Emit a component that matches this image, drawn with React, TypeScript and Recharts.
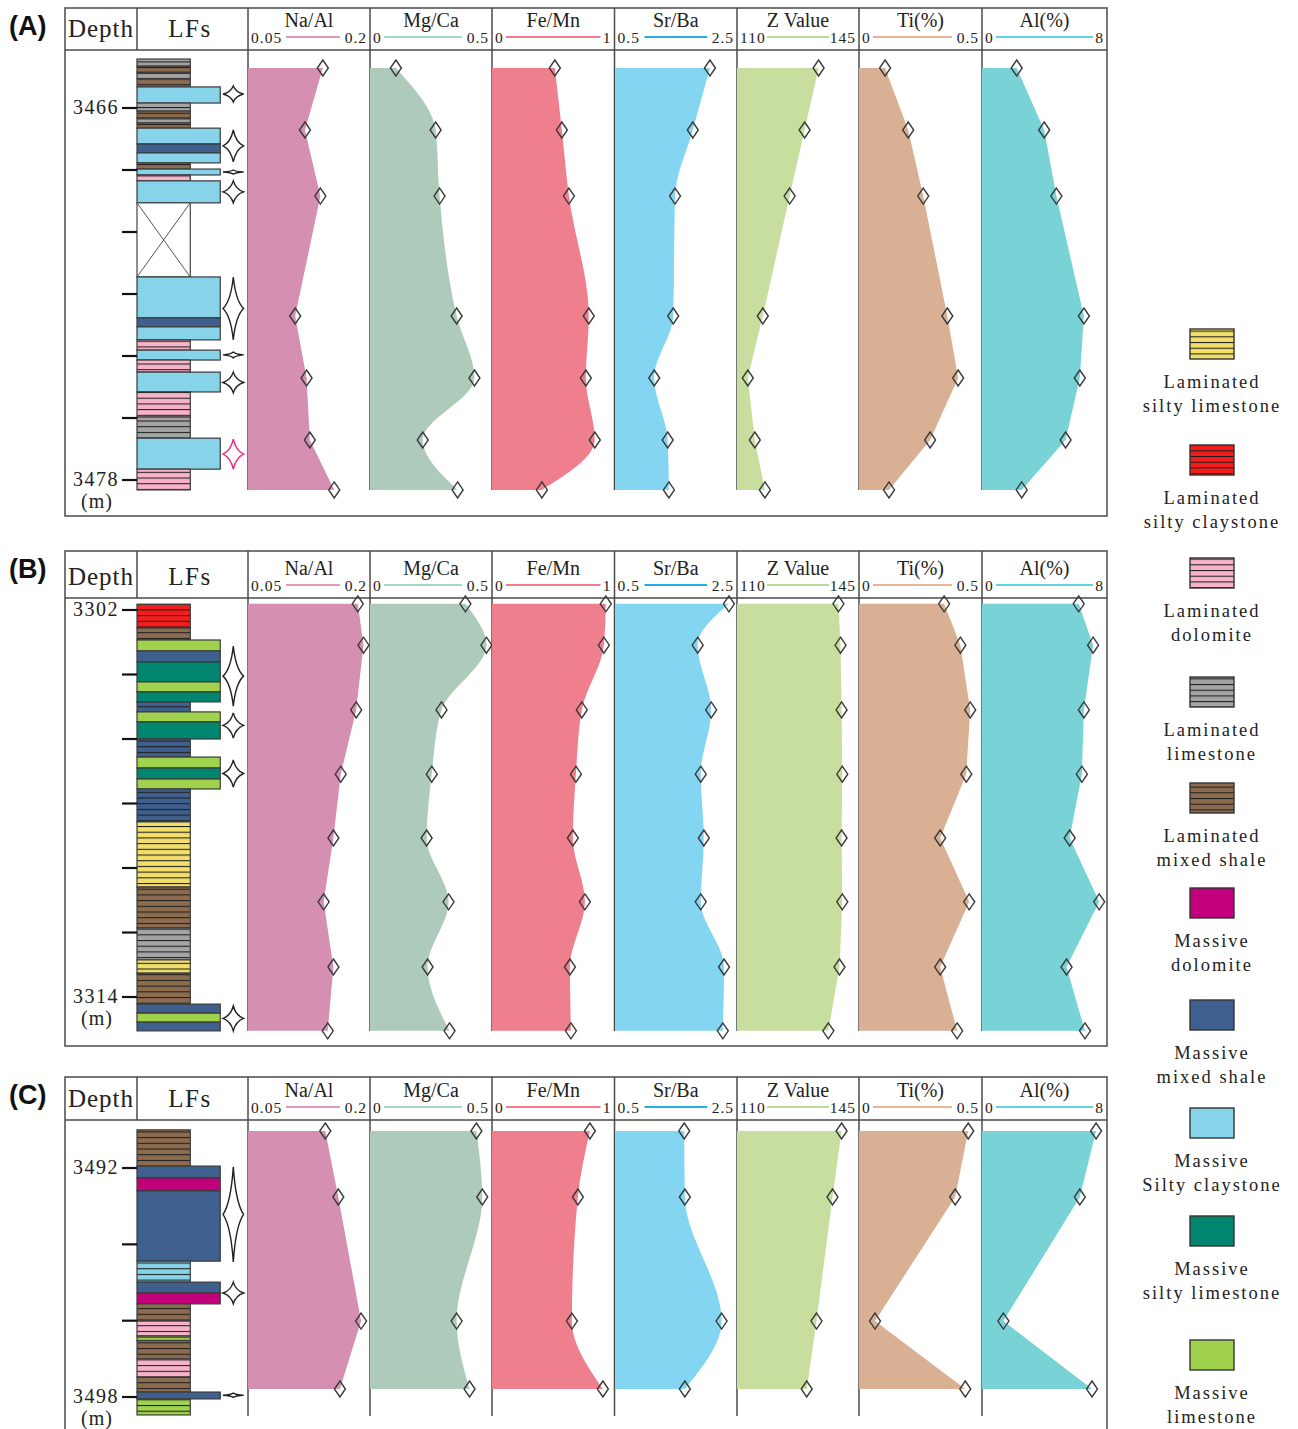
import React from 'react'
import { ComposedChart, Area, XAxis, YAxis, ReferenceArea } from 'recharts'

const SERIF = '"Liberation Serif", "DejaVu Serif", serif'
const SANS = '"Liberation Sans", Arial, sans-serif'

// ---------- panel A ----------
const DEPTH_A = [3464.71, 3466.71, 3468.84, 3472.71, 3474.71, 3476.71, 3478.32]
const NA_AL_A = [0.142, 0.12, 0.139, 0.108, 0.122, 0.126, 0.156]
const MG_CA_A = [0.106, 0.269, 0.285, 0.355, 0.428, 0.216, 0.359]
const FE_MN_A = [0.513, 0.57, 0.628, 0.79, 0.766, 0.839, 0.407]
const SR_BA_A = [2.05, 1.77, 1.48, 1.45, 1.14, 1.36, 1.38]
const Z_A = [133.4, 129.4, 125.1, 117.4, 113.1, 115.1, 118.0]
const TI_A = [0.106, 0.2, 0.261, 0.359, 0.403, 0.289, 0.122]
const AL_A = [2.22, 3.98, 4.76, 6.52, 6.26, 5.35, 2.54]
const TICKS_A = [3466, 3468, 3470, 3472, 3474, 3476, 3478]

// ---------- panel B ----------
const DEPTH_B = [3301.81, 3303.09, 3305.1, 3307.09, 3309.07, 3311.05, 3313.07, 3315.05]
const NA_AL_B = [0.185, 0.192, 0.183, 0.164, 0.155, 0.143, 0.155, 0.148]
const MG_CA_B = [0.391, 0.477, 0.293, 0.253, 0.232, 0.322, 0.236, 0.326]
const FE_MN_B = [0.929, 0.913, 0.733, 0.685, 0.66, 0.758, 0.636, 0.644]
const SR_BA_B = [2.36, 1.85, 2.07, 1.9, 1.95, 1.9, 2.28, 2.26]
const Z_B = [139.1, 139.7, 140.0, 140.2, 140.0, 140.2, 139.4, 136.2]
const TI_B = [0.346, 0.412, 0.452, 0.436, 0.33, 0.448, 0.33, 0.399]
const AL_B = [6.19, 7.11, 6.52, 6.39, 5.61, 7.5, 5.41, 6.59]
const TICKS_B = [3302, 3304, 3306, 3308, 3310, 3312, 3314]

// ---------- panel C ----------
const DEPTH_C = [3491.03, 3492.76, 3496.01, 3497.79]
const NA_AL_C = [0.145, 0.161, 0.189, 0.163]
const MG_CA_C = [0.436, 0.46, 0.355, 0.408]
const FE_MN_C = [0.799, 0.701, 0.652, 0.905]
const SR_BA_C = [1.63, 1.64, 2.24, 1.64]
const Z_C = [140.0, 137.4, 132.8, 130.0]
const TI_C = [0.444, 0.391, 0.065, 0.432]
const AL_C = [7.3, 6.26, 1.37, 7.04]
const TICKS_C = [3492, 3494, 3496, 3498]

// lithology layers: [top, bottom, rock]
type Layer = [number, number, string]
const LAYERS_A: Layer[] = [
  [3464.42, 3464.65, 'll'], [3464.65, 3464.85, 'lms'], [3464.85, 3465.05, 'll'], [3465.05, 3465.32, 'lms'],
  [3465.32, 3465.84, 'msc'],
  [3465.84, 3466.1, 'll'], [3466.1, 3466.32, 'lms'], [3466.32, 3466.48, 'll'], [3466.48, 3466.65, 'lms'],
  [3466.65, 3467.16, 'msc'], [3467.16, 3467.45, 'mms'], [3467.45, 3467.77, 'msc'],
  [3467.77, 3467.97, 'lms'],
  [3467.97, 3468.16, 'msc'],
  [3468.16, 3468.35, 'ld'],
  [3468.35, 3469.06, 'msc'],
  [3469.06, 3471.45, 'x'],
  [3471.45, 3472.77, 'msc'], [3472.77, 3473.06, 'mms'], [3473.06, 3473.48, 'msc'],
  [3473.48, 3473.81, 'ld'],
  [3473.81, 3474.13, 'msc'],
  [3474.13, 3474.52, 'ld'],
  [3474.52, 3475.16, 'msc'],
  [3475.16, 3475.97, 'ld'],
  [3475.97, 3476.65, 'll'],
  [3476.65, 3477.65, 'msc'],
  [3477.65, 3478.32, 'ld'],
]
const LAYERS_B: Layer[] = [
  [3301.82, 3302.56, 'lsc'], [3302.56, 3302.93, 'lms'],
  [3302.93, 3303.27, 'ml'], [3303.27, 3303.61, 'mms'], [3303.61, 3304.23, 'msl'], [3304.23, 3304.54, 'ml'], [3304.54, 3304.85, 'msl'],
  [3304.85, 3305.16, 'lmb'],
  [3305.16, 3305.47, 'ml'], [3305.47, 3306.0, 'msl'],
  [3306.0, 3306.56, 'lmb'],
  [3306.56, 3306.9, 'ml'], [3306.9, 3307.24, 'msl'], [3307.24, 3307.55, 'ml'],
  [3307.55, 3308.57, 'lmb'],
  [3308.57, 3310.59, 'lsl'],
  [3310.59, 3311.86, 'lms'],
  [3311.86, 3312.85, 'll'],
  [3312.85, 3313.26, 'lsl'],
  [3313.26, 3314.22, 'lms'],
  [3314.22, 3314.5, 'mms'], [3314.5, 3314.78, 'ml'], [3314.78, 3315.05, 'mms'],
]
const LAYERS_C: Layer[] = [
  [3491.0, 3491.95, 'lms'],
  [3491.95, 3492.26, 'mms'], [3492.26, 3492.6, 'md'], [3492.6, 3494.44, 'mms'],
  [3494.44, 3494.99, 'lcb'],
  [3494.99, 3495.27, 'mms'], [3495.27, 3495.56, 'md'],
  [3495.56, 3496.01, 'lms'],
  [3496.01, 3496.4, 'ld'],
  [3496.4, 3496.52, 'lgr'],
  [3496.52, 3497.0, 'lms'],
  [3497.0, 3497.48, 'ld'],
  [3497.48, 3497.87, 'lms'],
  [3497.87, 3498.05, 'mms'],
  [3498.05, 3498.47, 'lgr'],
]

// sparkle symbols beside the column: [top, bottom, highlighted]
type Star = [number, number, number]
const STARS_A: Star[] = [
  [3465.29, 3465.81, 0], [3466.71, 3467.74, 0], [3468.0, 3468.13, 0], [3468.35, 3469.06, 0],
  [3471.45, 3473.48, 0], [3473.87, 3474.06, 0], [3474.52, 3475.19, 0], [3476.68, 3477.65, 1],
]
const STARS_B: Star[] = [
  [3303.12, 3304.98, 0], [3305.19, 3305.97, 0], [3306.65, 3307.49, 0], [3314.28, 3315.05, 0],
]
const STARS_C: Star[] = [
  [3491.97, 3494.46, 0], [3494.99, 3495.56, 0], [3497.9, 3498.01, 0],
]

const ROCKS: Record<string, { color: string; lam: boolean }> = {
  lsl: { color: '#f2df6a', lam: true },
  lsc: { color: '#f41c1c', lam: true },
  ld: { color: '#f8b3cb', lam: true },
  ll: { color: '#a4a4a4', lam: true },
  lms: { color: '#8c6c4f', lam: true },
  md: { color: '#c3007b', lam: false },
  mms: { color: '#3f5f8e', lam: false },
  msc: { color: '#86d3ea', lam: false },
  msl: { color: '#00866f', lam: false },
  ml: { color: '#a0d24e', lam: false },
  lmb: { color: '#3f5f8e', lam: true },
  lcb: { color: '#86d3ea', lam: true },
  lgr: { color: '#a0d24e', lam: true },
  x: { color: '#ffffff', lam: true },
}

const LEGEND_ROCKS = ['lsl', 'lsc', 'ld', 'll', 'lms', 'md', 'mms', 'msc', 'msl', 'ml']
const LEGEND_NAMES = [
  ['Laminated', 'silty limestone'],
  ['Laminated', 'silty claystone'],
  ['Laminated', 'dolomite'],
  ['Laminated', 'limestone'],
  ['Laminated', 'mixed shale'],
  ['Massive', 'dolomite'],
  ['Massive', 'mixed shale'],
  ['Massive', 'Silty claystone'],
  ['Massive', 'silty limestone'],
  ['Massive', 'limestone'],
]
const LEGEND_Y = [329, 445, 558, 677, 783, 888, 1000, 1108, 1216, 1340]

const COLUMNS = [
  { key: 'na', title: 'Na/Al', min: 0.05, max: 0.2, lo: '0.05', hi: '0.2', fill: '#d48fb1', line: '#e596b9', curve: 'linear' },
  { key: 'mg', title: 'Mg/Ca', min: 0, max: 0.5, lo: '0', hi: '0.5', fill: '#aecabb', line: '#a6d7c0', curve: 'monotone' },
  { key: 'fe', title: 'Fe/Mn', min: 0, max: 1, lo: '0', hi: '1', fill: '#ef7f8d', line: '#f27d8b', curve: 'monotone' },
  { key: 'sr', title: 'Sr/Ba', min: 0.5, max: 2.5, lo: '0.5', hi: '2.5', fill: '#84d5f1', line: '#29ace6', curve: 'monotone' },
  { key: 'z', title: 'Z Value', min: 110, max: 145, lo: '110', hi: '145', fill: '#c8de9f', line: '#b7dc98', curve: 'linear' },
  { key: 'ti', title: 'Ti(%)', min: 0, max: 0.5, lo: '0', hi: '0.5', fill: '#dab094', line: '#e8b49a', curve: 'linear' },
  { key: 'al', title: 'Al(%)', min: 0, max: 8, lo: '0', hi: '8', fill: '#79d2d6', line: '#62d2e0', curve: 'linear' },
]
const COL_X = [248, 370, 492, 614.5, 737, 859, 982, 1107]

const buildRows = (depth: number[], s: number[][]) =>
  depth.map((d, i) => ({ depth: d, na: s[0][i], mg: s[1][i], fe: s[2][i], sr: s[3][i], z: s[4][i], ti: s[5][i], al: s[6][i] }))

const PANELS = [
  {
    id: 'A', top: 8, head: 50, bottom: 516, sepBottom: 490, domain: [3464.129, 3479.161],
    rows: buildRows(DEPTH_A, [NA_AL_A, MG_CA_A, FE_MN_A, SR_BA_A, Z_A, TI_A, AL_A]),
    layers: LAYERS_A, stars: STARS_A, ticks: TICKS_A,
  },
  {
    id: 'B', top: 551, head: 598, bottom: 1046, sepBottom: 1031, domain: [3301.628, 3315.519],
    rows: buildRows(DEPTH_B, [NA_AL_B, MG_CA_B, FE_MN_B, SR_BA_B, Z_B, TI_B, AL_B]),
    layers: LAYERS_B, stars: STARS_B, ticks: TICKS_B,
  },
  {
    id: 'C', top: 1077, head: 1120, bottom: 1429, sepBottom: 1416, domain: [3490.742, 3498.838],
    rows: buildRows(DEPTH_C, [NA_AL_C, MG_CA_C, FE_MN_C, SR_BA_C, Z_C, TI_C, AL_C]),
    layers: LAYERS_C, stars: STARS_C, ticks: TICKS_C,
  },
]

const PAD = 12
const fillOf = (r: string) => (ROCKS[r].lam ? `url(#lam-${r})` : ROCKS[r].color)

const renderDiamond = (props: any) => {
  const { cx, cy, index } = props
  if (cx == null || cy == null) return <g key={`dm-${index}`} />
  return (
    <path
      key={`dm-${index}`}
      d={`M${cx},${cy - 8} L${cx + 5.5},${cy} L${cx},${cy + 8} L${cx - 5.5},${cy} Z`}
      fill="none"
      stroke="#3a3a3a"
      strokeWidth={1.4}
    />
  )
}

const StarShape = (props: any) => {
  const { x, y, width, height, stroke } = props
  const cx = x + width / 2
  const cy = y + height / 2
  const a = width / 2
  const b = height / 2
  const k = 0.24
  const d = `M${cx},${cy - b} Q${cx + a * k},${cy - b * k} ${cx + a},${cy} Q${cx + a * k},${cy + b * k} ${cx},${cy + b} Q${cx - a * k},${cy + b * k} ${cx - a},${cy} Q${cx - a * k},${cy - b * k} ${cx},${cy - b} Z`
  return <path d={d} fill="#fff" stroke={stroke} strokeWidth={1.4} />
}

const LayerShape = (props: any) => {
  const { x, y, width, height, fill } = props
  return <rect x={x} y={y} width={width} height={height} fill={fill} stroke="#3a3a3a" strokeWidth={1.2} />
}

const MissingShape = (props: any) => {
  const { x, y, width, height } = props
  return (
    <g>
      <rect x={x} y={y} width={width} height={height} fill="#fff" stroke="#444" strokeWidth={1.2} />
      <line x1={x} y1={y} x2={x + width} y2={y + height} stroke="#555" strokeWidth={1} />
      <line x1={x + width} y1={y} x2={x} y2={y + height} stroke="#555" strokeWidth={1} />
    </g>
  )
}

function LithoChart({ p }: { p: any }) {
  const H = p.bottom - p.head
  const first = p.ticks[0]
  const last = p.ticks[p.ticks.length - 1]
  const tick = (t: any) => {
    const v = t.payload.value
    if (v !== first && v !== last) return <g />
    return (
      <g>
        <text x={t.x} y={t.y} dy={6} textAnchor="end" fontFamily={SERIF} fontSize={20} letterSpacing={1.5} fill="#222">{v}</text>
        {v === last && (
          <text x={t.x - 22} y={t.y} dy={28} textAnchor="middle" fontFamily={SERIF} fontSize={20} letterSpacing={1} fill="#222">(m)</text>
        )}
      </g>
    )
  }
  return (
    <div style={{ position: 'absolute', left: 65, top: p.head }}>
      <ComposedChart width={183} height={H} layout="vertical" data={p.rows} margin={{ top: 0, right: 0, bottom: 0, left: 0 }}>
        <XAxis type="number" domain={[0, 1]} allowDataOverflow hide />
        <YAxis
          type="number"
          dataKey="depth"
          domain={p.domain}
          ticks={p.ticks}
          interval={0}
          width={72}
          allowDataOverflow
          axisLine={false}
          tickSize={15}
          tickMargin={3}
          tickLine={{ stroke: '#111', strokeWidth: 2.2 }}
          tick={tick}
        />
        {p.layers.map(([t, b, r]: Layer, i: number) => (
          <ReferenceArea
            key={`l${i}`}
            x1={0}
            x2={ROCKS[r].lam ? 0.48 : 0.75}
            y1={t}
            y2={b}
            fill={fillOf(r)}
            fillOpacity={1}
            stroke="#3a3a3a"
            strokeWidth={1.2}
            ifOverflow="visible"
            shape={r === 'x' ? MissingShape : LayerShape}
          />
        ))}
        {p.stars.map(([t, b, hl]: Star, i: number) => (
          <ReferenceArea
            key={`s${i}`}
            x1={0.775}
            x2={0.96}
            y1={t}
            y2={b}
            fill="#fff"
            fillOpacity={1}
            stroke={hl ? '#f0267e' : '#222'}
            ifOverflow="visible"
            shape={StarShape}
          />
        ))}
      </ComposedChart>
    </div>
  )
}

function ColumnChart({ p, i }: { p: any; i: number }) {
  const col = COLUMNS[i]
  const left = COL_X[i]
  const right = COL_X[i + 1]
  return (
    <div style={{ position: 'absolute', left: left - PAD, top: p.head - PAD }}>
      <ComposedChart
        width={right - left + 2 * PAD}
        height={p.bottom - p.head + 2 * PAD}
        layout="vertical"
        data={p.rows}
        margin={{ top: PAD, right: PAD, bottom: PAD, left: PAD }}
      >
        <XAxis type="number" domain={[col.min, col.max]} hide />
        <YAxis type="number" dataKey="depth" domain={p.domain} hide />
        <Area
          dataKey={col.key}
          type={col.curve as any}
          baseValue={col.min}
          fill={col.fill}
          fillOpacity={1}
          stroke="none"
          dot={renderDiamond}
          activeDot={false}
          isAnimationActive={false}
        />
      </ComposedChart>
    </div>
  )
}

function Frame() {
  const line = '#4a4a4a'
  return (
    <svg width={1298} height={1429} style={{ position: 'absolute', left: 0, top: 0 }}>
      <defs>
        {Object.keys(ROCKS).filter((k) => ROCKS[k].lam).map((k) => (
          <pattern key={k} id={`lam-${k}`} patternUnits="userSpaceOnUse" width={10} height={5.7}>
            <rect x={0} y={0} width={10} height={5.7} fill={ROCKS[k].color} />
            <line x1={0} y1={0.5} x2={10} y2={0.5} stroke="#1e1e1e" strokeWidth={1.1} />
          </pattern>
        ))}
      </defs>
      {PANELS.map((p) => (
        <g key={p.id}>
          <rect x={65} y={p.top} width={1042} height={p.bottom - p.top + (p.id === 'C' ? 20 : 0)} fill="none" stroke="#555" strokeWidth={1.6} />
          <line x1={65} y1={p.head} x2={1107} y2={p.head} stroke={line} strokeWidth={1.5} />
          <line x1={137} y1={p.top} x2={137} y2={p.head} stroke={line} strokeWidth={1.5} />
          {COL_X.slice(0, 7).map((x) => (
            <g key={x}>
              <line x1={x} y1={p.top} x2={x} y2={p.head} stroke={line} strokeWidth={1.5} />
              <line x1={x} y1={p.head} x2={x} y2={p.sepBottom} stroke={line} strokeWidth={1.5} />
            </g>
          ))}
          <text x={9} y={p.top + 18} dy={9} fontFamily={SANS} fontWeight="bold" fontSize={27} fill="#111">({p.id})</text>
          <text x={101} y={p.head - 21} dy={8} textAnchor="middle" fontFamily={SERIF} fontSize={25} letterSpacing={1} fill="#222">Depth</text>
          <text x={190} y={p.head - 21} dy={8} textAnchor="middle" fontFamily={SERIF} fontSize={25} letterSpacing={1.5} fill="#222">LFs</text>
          {COLUMNS.map((c, i) => {
            const l = COL_X[i]
            const r = COL_X[i + 1]
            return (
              <g key={c.key}>
                <text x={(l + r) / 2} y={p.head - 30} dy={7} textAnchor="middle" fontFamily={SERIF} fontSize={20} fill="#222">{c.title}</text>
                <text x={l + 3} y={p.head - 12} dy={5} fontFamily={SERIF} fontSize={15.5} letterSpacing={1} fill="#222">{c.lo}</text>
                <text x={r - 3} y={p.head - 12} dy={5} textAnchor="end" fontFamily={SERIF} fontSize={15.5} letterSpacing={1} fill="#222">{c.hi}</text>
                <line x1={l + 6 + c.lo.length * 8} y1={p.head - 13} x2={r - 6 - c.hi.length * 8} y2={p.head - 13} stroke={c.line} strokeWidth={1.8} />
              </g>
            )
          })}
        </g>
      ))}
      {LEGEND_ROCKS.map((k, i) => (
        <g key={k}>
          <rect x={1190} y={LEGEND_Y[i]} width={44} height={30} fill={fillOf(k)} stroke="#333" strokeWidth={1.4} />
          <text x={1212} y={LEGEND_Y[i] + 53} dy={6} textAnchor="middle" fontFamily={SERIF} fontSize={18.5} letterSpacing={2} fill="#222">{LEGEND_NAMES[i][0]}</text>
          <text x={1212} y={LEGEND_Y[i] + 77} dy={6} textAnchor="middle" fontFamily={SERIF} fontSize={18.5} letterSpacing={2} fill="#222">{LEGEND_NAMES[i][1]}</text>
        </g>
      ))}
    </svg>
  )
}

export default function App() {
  return (
    <div style={{ position: 'absolute', left: 0, top: 0, width: 1298, height: 1429, background: '#fff', overflow: 'hidden' }}>
      <Frame />
      {PANELS.map((p) => (
        <div key={p.id}>
          <LithoChart p={p} />
          {COLUMNS.map((c, i) => (
            <ColumnChart key={c.key} p={p} i={i} />
          ))}
        </div>
      ))}
    </div>
  )
}
